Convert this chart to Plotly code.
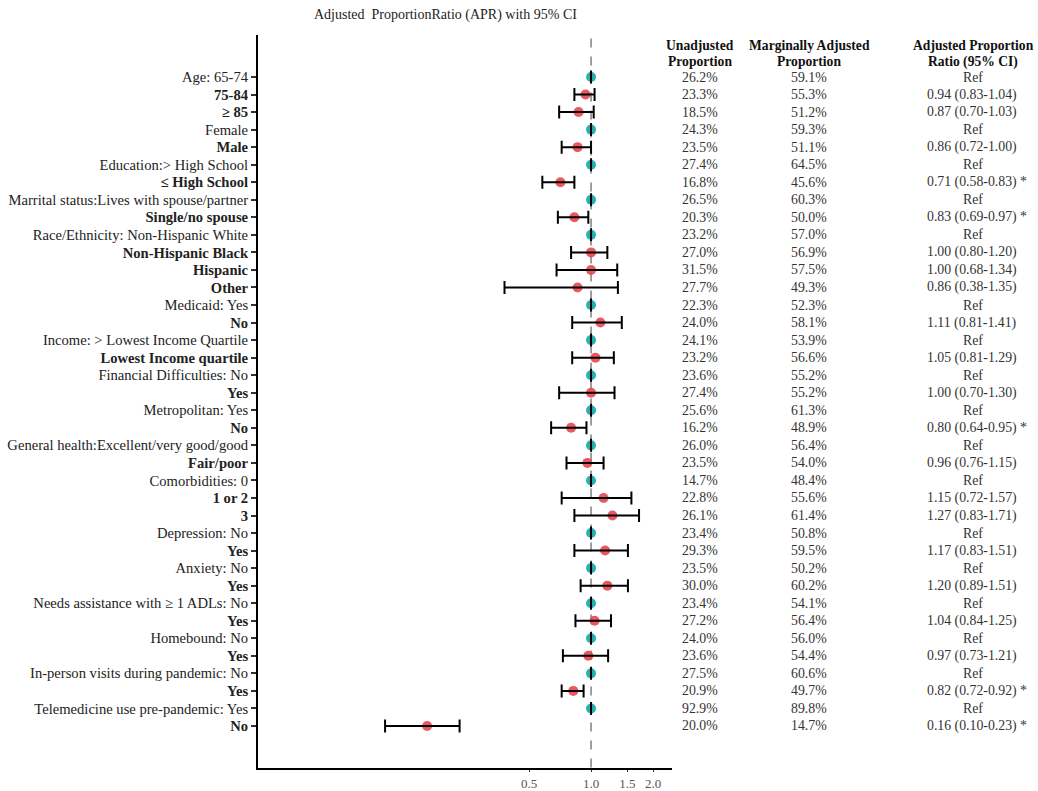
import plotly.graph_objects as go

labels = ["Age: 65-74", "75-84", "≥ 85", "Female", "Male", "Education:> High School",
          "≤ High School", "Marrital status:Lives with spouse/partner", "Single/no spouse",
          "Race/Ethnicity: Non-Hispanic White", "Non-Hispanic Black", "Hispanic", "Other",
          "Medicaid: Yes", "No", "Income: > Lowest Income Quartile", "Lowest Income quartile",
          "Financial Difficulties: No", "Yes", "Metropolitan: Yes", "No",
          "General health:Excellent/very good/good", "Fair/poor", "Comorbidities: 0", "1 or 2", "3",
          "Depression: No", "Yes", "Anxiety: No", "Yes", "Needs assistance with ≥ 1 ADLs: No", "Yes",
          "Homebound: No", "Yes", "In-person visits during pandemic: No", "Yes",
          "Telemedicine use pre-pandemic: Yes", "No"]
is_ref = [1, 0, 0, 1, 0, 1, 0, 1, 0, 1, 0, 0, 0, 1, 0, 1, 0, 1, 0, 1, 0, 1, 0, 1, 0, 0,
          1, 0, 1, 0, 1, 0, 1, 0, 1, 0, 1, 0]
unadjusted = ["26.2%", "23.3%", "18.5%", "24.3%", "23.5%", "27.4%", "16.8%", "26.5%", "20.3%",
              "23.2%", "27.0%", "31.5%", "27.7%", "22.3%", "24.0%", "24.1%", "23.2%", "23.6%",
              "27.4%", "25.6%", "16.2%", "26.0%", "23.5%", "14.7%", "22.8%", "26.1%", "23.4%",
              "29.3%", "23.5%", "30.0%", "23.4%", "27.2%", "24.0%", "23.6%", "27.5%", "20.9%",
              "92.9%", "20.0%"]
marginal = ["59.1%", "55.3%", "51.2%", "59.3%", "51.1%", "64.5%", "45.6%", "60.3%", "50.0%",
            "57.0%", "56.9%", "57.5%", "49.3%", "52.3%", "58.1%", "53.9%", "56.6%", "55.2%",
            "55.2%", "61.3%", "48.9%", "56.4%", "54.0%", "48.4%", "55.6%", "61.4%", "50.8%",
            "59.5%", "50.2%", "60.2%", "54.1%", "56.4%", "56.0%", "54.4%", "60.6%", "49.7%",
            "89.8%", "14.7%"]
apr = [1, 0.94, 0.87, 1, 0.86, 1, 0.71, 1, 0.83, 1, 1.00, 1.00, 0.86, 1, 1.11, 1, 1.05, 1, 1.00,
       1, 0.80, 1, 0.96, 1, 1.15, 1.27, 1, 1.17, 1, 1.20, 1, 1.04, 1, 0.97, 1, 0.82, 1, 0.16]
lo = [1, 0.83, 0.70, 1, 0.72, 1, 0.58, 1, 0.69, 1, 0.80, 0.68, 0.38, 1, 0.81, 1, 0.81, 1, 0.70,
      1, 0.64, 1, 0.76, 1, 0.72, 0.83, 1, 0.83, 1, 0.89, 1, 0.84, 1, 0.73, 1, 0.72, 1, 0.10]
hi = [1, 1.04, 1.03, 1, 1.00, 1, 0.83, 1, 0.97, 1, 1.20, 1.34, 1.35, 1, 1.41, 1, 1.29, 1, 1.30,
      1, 0.95, 1, 1.15, 1, 1.57, 1.71, 1, 1.51, 1, 1.51, 1, 1.25, 1, 1.21, 1, 0.92, 1, 0.23]
significant = [0, 0, 0, 0, 0, 0, 1, 0, 1, 0, 0, 0, 0, 0, 0, 0, 0, 0, 0, 0, 1, 0, 0, 0, 0, 0,
               0, 0, 0, 0, 0, 0, 0, 0, 0, 1, 0, 1]
x_ticks = [0.5, 1.0, 1.5, 2.0]
x_ticktext = ["0.5", "1.0", "1.5", "2.0"]
REF_VALUE = 1.0

SERIF = "Liberation Serif, Times New Roman, serif"
RED = "#E8474F"
TEAL = "#17A6A6"

n = len(labels)
ys = list(range(n))

# plot area pixels
L, R, T, B = 258, 672, 35, 768
W, H = 1038, 791
pw = R - L
def px2paper(px):
    return (px - L) / pw

fig = go.Figure()

# reference dashed line
fig.add_trace(go.Scatter(x=[REF_VALUE, REF_VALUE], y=[-2.2, n + 1.5], mode="lines",
                         line=dict(color="#808080", width=1.5, dash="dash"),
                         hoverinfo="skip", showlegend=False))

# points
fig.add_trace(go.Scatter(x=apr, y=ys, mode="markers",
                         marker=dict(size=10, color=[TEAL if r else RED for r in is_ref],
                                     opacity=0.9, line=dict(width=0)),
                         showlegend=False))
# error bars on top
fig.add_trace(go.Scatter(x=apr, y=ys, mode="markers",
                         marker=dict(size=1, color="rgba(0,0,0,0)"),
                         error_x=dict(type="data", symmetric=False,
                                      array=[h - a for h, a in zip(hi, apr)],
                                      arrayminus=[a - l for a, l in zip(apr, lo)],
                                      color="black", thickness=2, width=6.5),
                         showlegend=False, hoverinfo="skip"))

ticktext = [lab if r else f"<b>{lab}</b>" for lab, r in zip(labels, is_ref)]

annotations = []
col_font = dict(family=SERIF, size=13.8, color="#333")
for i in range(n):
    annotations.append(dict(x=px2paper(700), y=i, xref="paper", yref="y", text=unadjusted[i],
                            showarrow=False, font=col_font, xanchor="center", yanchor="middle"))
    annotations.append(dict(x=px2paper(809), y=i, xref="paper", yref="y", text=marginal[i],
                            showarrow=False, font=col_font, xanchor="center", yanchor="middle"))
    if is_ref[i]:
        annotations.append(dict(x=px2paper(973), y=i, xref="paper", yref="y", text="Ref",
                                showarrow=False, font=col_font, xanchor="center", yanchor="middle"))
    else:
        txt = f"{apr[i]:.2f} ({lo[i]:.2f}-{hi[i]:.2f})" + (" *" if significant[i] else "")
        annotations.append(dict(x=px2paper(925), y=i, xref="paper", yref="y", text=txt,
                                showarrow=False, font=col_font, xanchor="left", yanchor="middle"))

hdr_font = dict(family=SERIF, size=13.6, color="#111")
headers = [(700, "Unadjusted", "Proportion"), (809, "Marginally Adjusted", "Proportion"),
           (973, "Adjusted Proportion", "Ratio (95% CI)")]
for cx, l1, l2 in headers:
    annotations.append(dict(x=px2paper(cx), y=(B - 45) / (B - T), xref="paper", yref="paper",
                            text=f"<b>{l1}</b>", showarrow=False, font=hdr_font,
                            xanchor="center", yanchor="middle"))
    annotations.append(dict(x=px2paper(cx), y=(B - 62) / (B - T), xref="paper", yref="paper",
                            text=f"<b>{l2}</b>", showarrow=False, font=hdr_font,
                            xanchor="center", yanchor="middle"))

annotations.append(dict(x=px2paper(445), y=(B - 15) / (B - T), xref="paper", yref="paper",
                        text="Adjusted  ProportionRatio (APR) with 95% CI", showarrow=False,
                        font=dict(family=SERIF, size=14, color="#222"),
                        xanchor="center", yanchor="middle"))

row_px = 17.54
fig.update_layout(
    width=W, height=H,
    margin=dict(l=L, r=W - R, t=T, b=H - B, autoexpand=False),
    paper_bgcolor="white", plot_bgcolor="white",
    showlegend=False,
    annotations=annotations,
    xaxis=dict(type="log", range=[-1.617, 0.393], tickvals=x_ticks, ticktext=x_ticktext,
               automargin=False,
               showline=True, linecolor="black", linewidth=2, ticks="outside", ticklen=2,
               tickcolor="#333", showgrid=False, zeroline=False,
               tickfont=dict(family=SERIF, size=13, color="#555")),
    yaxis=dict(range=[(B - 77) / row_px, -(77 - T) / row_px], tickvals=ys, ticktext=ticktext,
               automargin=False,
               showline=True, linecolor="black", linewidth=2, ticks="outside", ticklen=5,
               tickwidth=1.5, tickcolor="#333", showgrid=False, zeroline=False,
               tickfont=dict(family=SERIF, size=14.6, color="#222")),
)

fig.write_html("out.html", config={"displayModeBar": False})
with open("out.html", "r", encoding="utf-8") as f:
    html = f.read()
html = html.replace("<head>", "<head><style>html,body{margin:0;padding:0;overflow:hidden;}</style>", 1)
with open("out.html", "w", encoding="utf-8") as f:
    f.write(html)
